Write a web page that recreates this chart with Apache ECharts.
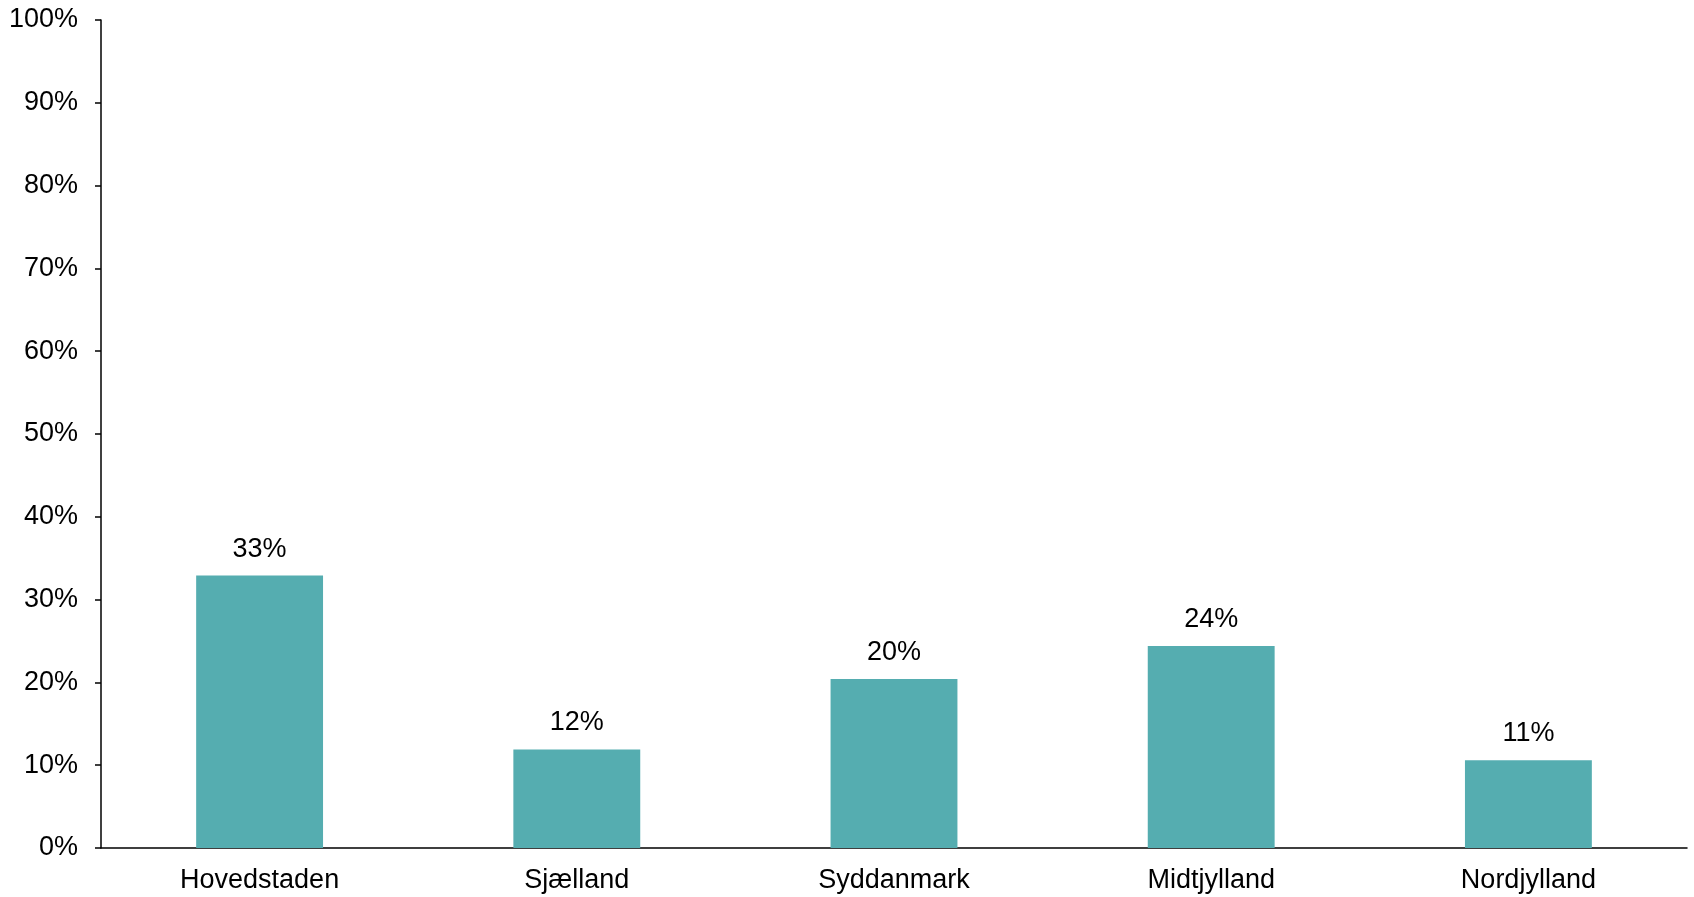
<!DOCTYPE html>
<html>
<head>
<meta charset="utf-8">
<script src="https://cdn.jsdelivr.net/npm/echarts@6/dist/echarts.min.js"></script>
<style>
  html, body { margin: 0; padding: 0; background: #fff; }
  #chart { width: 1694px; height: 897px; }
</style>
</head>
<body>
<div id="chart"></div>
<script>
const categories = ['Hovedstaden', 'Sjælland', 'Syddanmark', 'Midtjylland', 'Nordjylland'];
const values = [32.9, 11.9, 20.4, 24.4, 10.6];
const yTicks = { min: 0, max: 100, interval: 10 };

const FONT = 'Liberation Sans, Arial, sans-serif';
const chart = echarts.init(document.getElementById('chart'), null, { renderer: 'canvas' });
chart.setOption({
  animation: false,
  backgroundColor: '#ffffff',
  grid: { left: 101, right: 7, top: 20, bottom: 49, containLabel: false },
  xAxis: {
    type: 'category',
    data: categories,
    axisLine: { show: true, lineStyle: { color: '#000', width: 1.5 } },
    axisTick: { show: false },
    axisLabel: { color: '#000', fontFamily: FONT, fontSize: 27, margin: 19 },
    splitLine: { show: false }
  },
  yAxis: {
    type: 'value',
    min: yTicks.min,
    max: yTicks.max,
    interval: yTicks.interval,
    axisLine: { show: true, lineStyle: { color: '#000', width: 1.5 } },
    axisTick: { show: true, length: 6, lineStyle: { color: '#000', width: 1.5 } },
    axisLabel: { color: '#000', fontFamily: FONT, fontSize: 27, margin: 23, formatter: '{value}%' },
    splitLine: { show: false }
  },
  series: [{
    type: 'bar',
    data: values,
    barCategoryGap: '60%',
    itemStyle: { color: '#55ADB0' },
    label: {
      show: true,
      position: 'top',
      distance: 13,
      color: '#000',
      fontFamily: FONT,
      fontSize: 27,
      formatter: p => Math.round(p.value) + '%'
    }
  }]
});
</script>
</body>
</html>
